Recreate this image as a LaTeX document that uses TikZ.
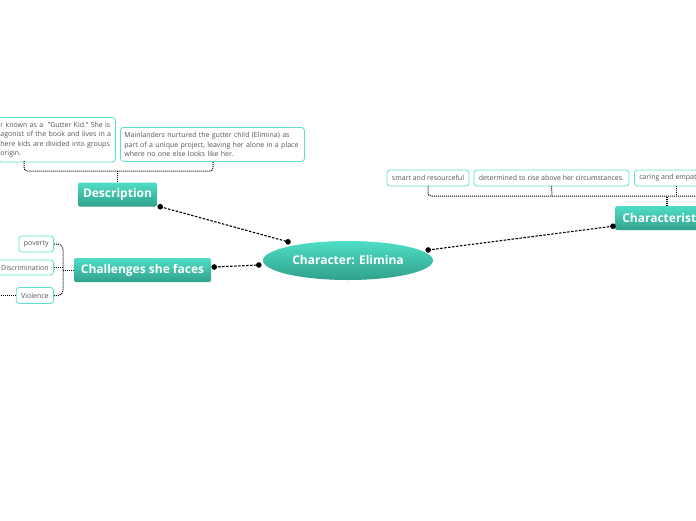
\documentclass[tikz,border=0pt]{standalone}
\usepackage{fontspec}
\setmainfont{Open Sans}
\usetikzlibrary{shapes.geometric}
\definecolor{tealtop}{HTML}{4FDEC7}
\definecolor{tealbot}{HTML}{30A18B}
\definecolor{childborder}{HTML}{5CE3CD}
\definecolor{childtext}{HTML}{555555}
\tikzset{
 topic/.style={rectangle, rounded corners=2pt, top color=tealtop, bottom color=tealbot, text=white, font=\fontsize{12}{14}\selectfont\bfseries, minimum height=24pt, inner xsep=5pt, inner ysep=0pt},
 central/.style={ellipse, top color=tealtop, bottom color=tealbot, text=white, font=\fontsize{12}{14}\selectfont\bfseries, minimum width=170pt, minimum height=39pt, inner sep=0pt},
 leaf/.style={draw=childborder, line width=0.8pt, rounded corners=3pt, fill=white, text=childtext, font=\fontsize{7}{9.5}\selectfont, inner xsep=5pt, inner ysep=3pt, align=left},
 single/.style={leaf, minimum height=16pt, inner ysep=0pt},
 conn/.style={line width=1.1pt, dash pattern=on 2.5pt off 1.5pt},
 brace/.style={line width=1pt, dash pattern=on 1pt off 1pt, rounded corners=3pt},
 stem/.style={line width=1.4pt, dash pattern=on 1pt off 1pt}
}
\begin{document}
\begin{tikzpicture}[x=1pt,y=-1pt]
\useasboundingbox (0,0) rectangle (696,520);
\clip (0,0) rectangle (696,520);
\fill[white] (0,0) rectangle (696,520);

% main nodes
\node[central] (center) at (348,260.5) {Character: Elimina};
\node[topic, minimum width=79pt] (desc) at (117.5,194.5) {Description};
\node[topic, minimum width=137pt] (chal) at (142.5,270) {Challenges she faces};
\node[topic, minimum width=104pt, anchor=west] (charac) at (615,218) {Characteristics};

% description leaves
\node[leaf, anchor=north west, text width=113pt, inner xsep=2pt, inner ysep=4.5pt, minimum height=44pt] (d1) at (-2,117)
 {r known as a\ \ "Gutter Kid." She is\\agonist of the book and lives in a\\here kids are divided into groups\\origin.};
\node[leaf, anchor=north west, text width=176pt, inner xsep=4pt, inner ysep=4.5pt, minimum height=34pt] (d2) at (120,127)
 {Mainlanders nurtured the gutter child (Elimina) as\\part of a unique project, leaving her alone in a place\\where no one else looks like her.};

% characteristics leaves
\node[single] (c1) at (428,178) {smart and resourceful};
\node[single] (c2) at (551.5,178) {determined to rise above her circumstances.};
\node[single, anchor=west] (c3) at (634,178) {caring and empathetic};

% challenges leaves
\node[single, anchor=east] (pov) at (54,244) {poverty};
\node[single, anchor=east, minimum height=15pt] (disc) at (54,267.5) {Discrimination};
\node[single, anchor=east] (viol) at (54,295.5) {Violence};

% brace connectors
\draw[stem] (desc.north) -- (117.5,171);
\draw[brace] (24,161) -- (24,171) -- (213,171) -- (213,161);
\draw[stem] (667,206) -- (667,196);
\draw[brace] (c1.south) -- (428,196) -- (705,196);
\draw[brace] (c2.south) -- (552,196);
\draw[brace] (676,186) -- (676,196);
\draw[brace, rounded corners=5pt] (pov.east) -| (63,270) |- (viol.east);
\draw[brace] (disc.east) -- (63,267.5);
\draw[brace] (63,270) -- (chal.west);
\draw[brace] (viol.west) -- (-5,295.5);

% main connectors
\coordinate (dA) at ([shift={(3,0)}]desc.south east);
\coordinate (dB) at ([shift={(-60,1)}]center.north);
\coordinate (cA) at ([shift={(3,-3)}]chal.east);
\coordinate (cB) at ([shift={(-4,4.5)}]center.west);
\coordinate (kA) at ([shift={(-5,-10.5)}]center.east);
\coordinate (kB) at ([shift={(-2,-4)}]charac.south west);
\draw[conn] (dA) -- (dB);
\draw[conn] (cA) -- (cB);
\draw[conn] (kA) -- (kB);
\foreach \p in {dA,dB,cA,cB,kA,kB} \fill (\p) circle (2.8pt);
\end{tikzpicture}
\end{document}
